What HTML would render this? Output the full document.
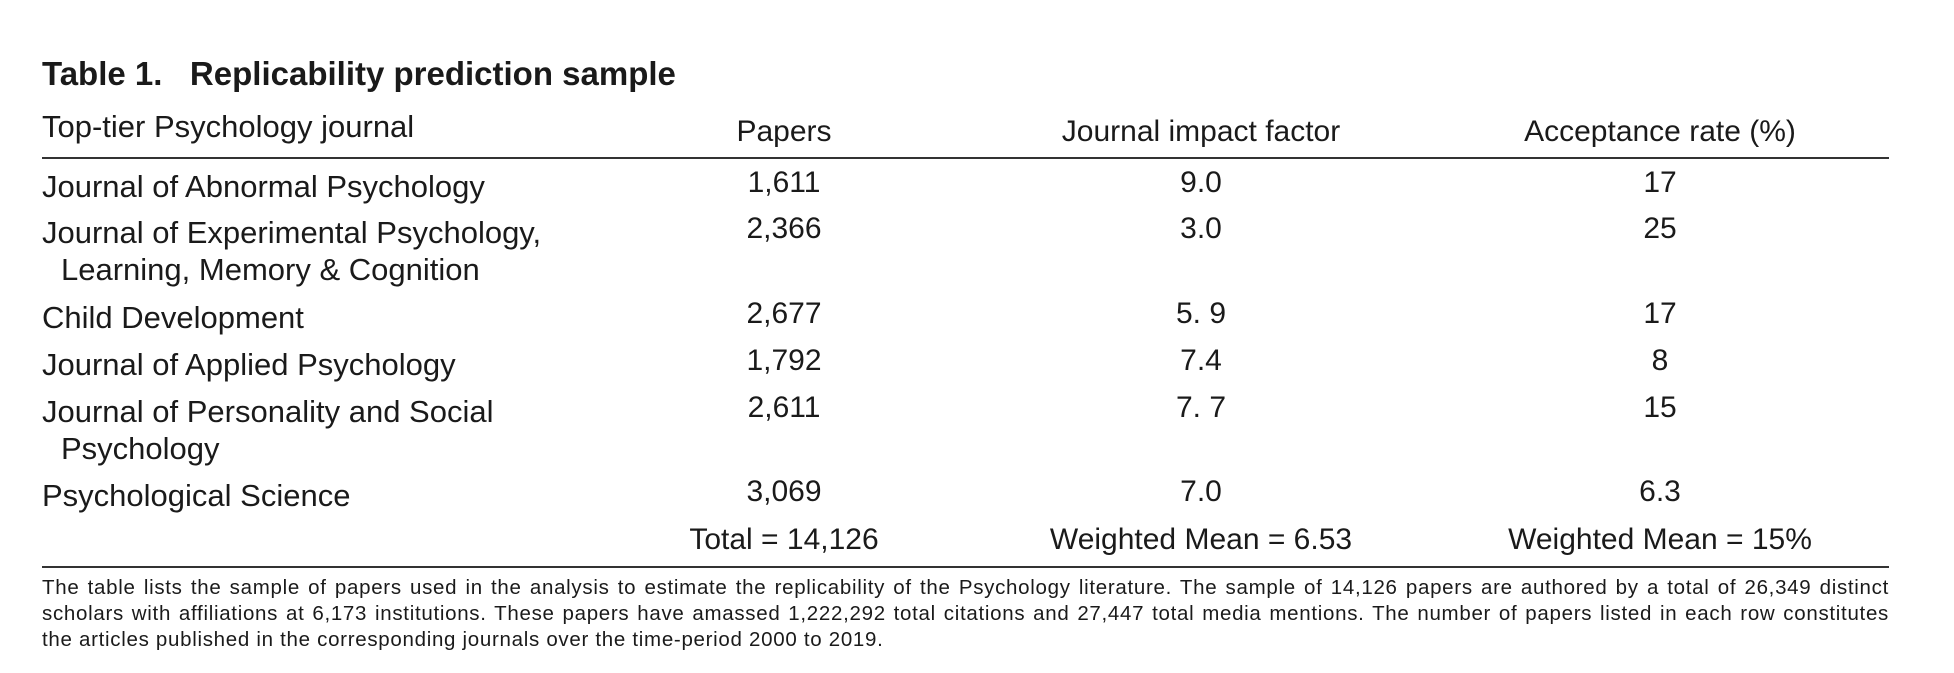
<!DOCTYPE html>
<html><head><meta charset="utf-8"><style>
body{margin:0;width:1954px;height:673px;background:#fff;position:relative;overflow:hidden;font-family:"Liberation Sans",sans-serif;color:#1a1a1a}
.t{position:absolute;white-space:nowrap;font-size:31px;line-height:36px;transform:translateY(-50%)}
.c{transform:translate(-50%,-50%);font-size:30px}
.rule{position:absolute;left:42px;width:1847px;height:2px;background:#333}
.fn{position:absolute;left:42px;width:1847px;font-size:20.5px;letter-spacing:0.7px;line-height:26px;text-align:justify;text-align-last:justify;white-space:nowrap}
</style></head><body>
<div class="t" style="left:42px;top:74px;font-size:33px;font-weight:bold">Table 1.&nbsp;&nbsp;&nbsp;Replicability prediction sample</div>
<div class="t" style="left:42px;top:127px">Top-tier Psychology journal</div>
<div class="t c" style="left:784px;top:132px">Papers</div>
<div class="t c" style="left:1201px;top:132px">Journal impact factor</div>
<div class="t c" style="left:1660px;top:132px">Acceptance rate (%)</div>
<div class="rule" style="top:157px"></div>
<div id="rows"></div>
<div class="rule" style="top:566px"></div>
<div>
<div class="fn" style="top:575px">The table lists the sample of papers used in the analysis to estimate the replicability of the Psychology literature. The sample of 14,126 papers are authored by a total of 26,349 distinct</div>
<div class="fn" style="top:601px">scholars with affiliations at 6,173 institutions. These papers have amassed 1,222,292 total citations and 27,447 total media mentions. The number of papers listed in each row constitutes</div>
<div class="fn" style="top:627px;text-align-last:left">the articles published in the corresponding journals over the time-period 2000 to 2019.</div>
</div>
<script>
const journals=["Journal of Abnormal Psychology","Journal of Experimental Psychology,|Learning, Memory & Cognition","Child Development","Journal of Applied Psychology","Journal of Personality and Social|Psychology","Psychological Science"];
const papers=["1,611","2,366","2,677","1,792","2,611","3,069"];
const impact=["9.0","3.0","5. 9","7.4","7. 7","7.0"];
const accept=["17","25","17","8","15","6.3"];
const totals=["Total = 14,126","Weighted Mean = 6.53","Weighted Mean = 15%"];
const ys=[187,233,318,365,412,496];
const host=document.getElementById('rows');
function add(txt,x,y,center,name){const d=document.createElement('div');d.className='t'+(center?' c':'');d.style.left=x+'px';d.style.top=y+'px';d.textContent=txt;


host.appendChild(d);}
journals.forEach((j,i)=>{const parts=j.split('|');add(parts[0],42,ys[i],false,'journal-name');if(parts[1])add(parts[1],61,ys[i]+37,false,'journal-name-cont');
add(papers[i],784,ys[i]-4,true,'papers-value');add(impact[i],1201,ys[i]-4,true,'impact-value');add(accept[i],1660,ys[i]-4,true,'acceptance-value');});
add(totals[0],784,540,true,'total-papers');add(totals[1],1201,540,true,'weighted-impact');add(totals[2],1660,540,true,'weighted-acceptance');
</script>
</body></html>
